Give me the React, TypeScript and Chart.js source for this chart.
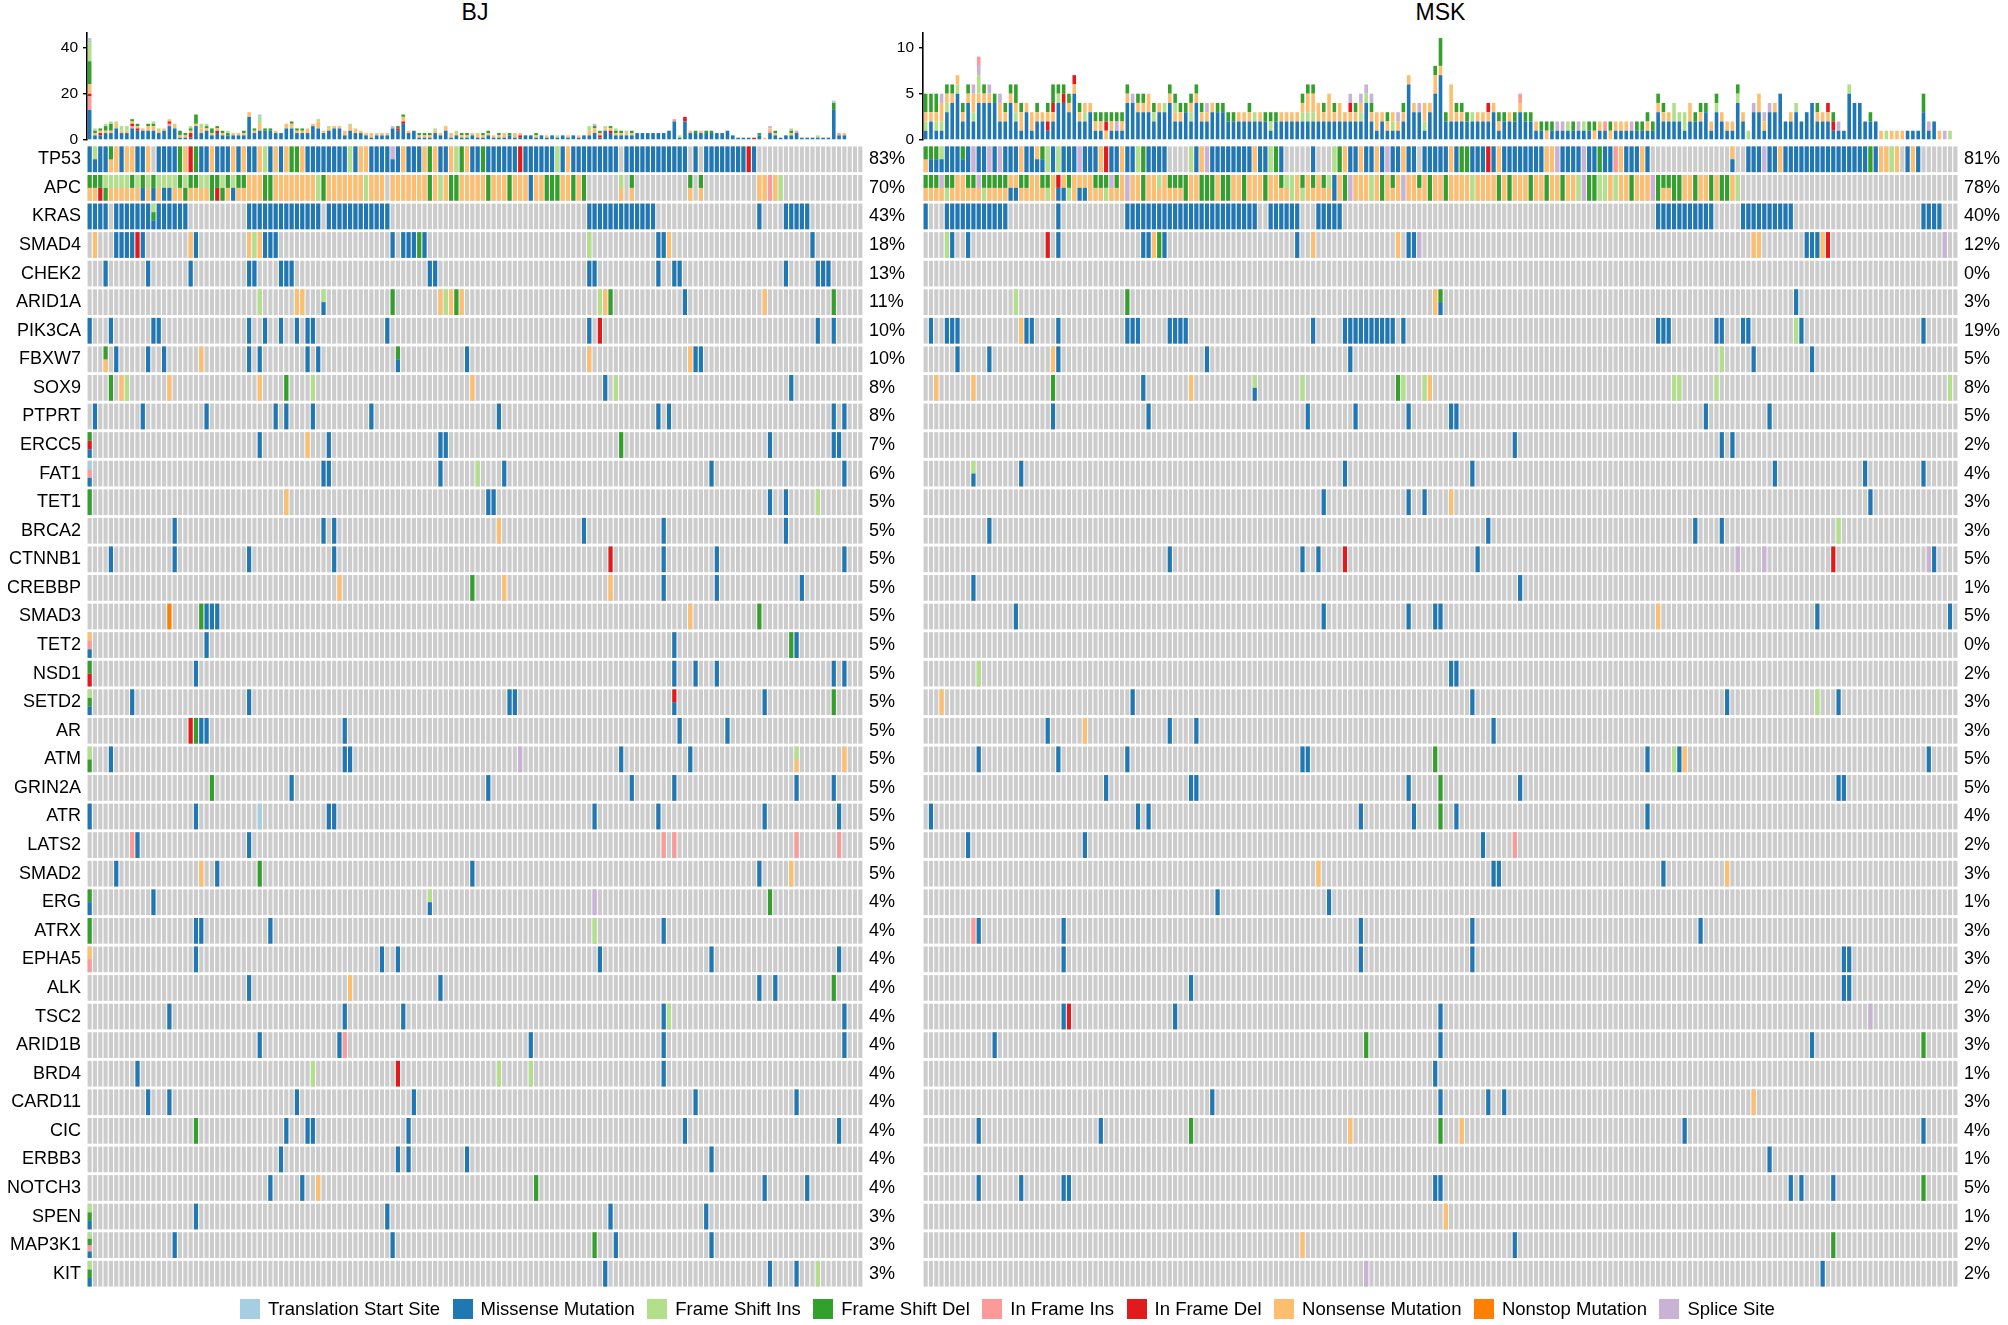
import React, { useEffect, useRef } from "react";
import { Chart, registerables } from "chart.js";

Chart.register(...registerables);

const FONT = '"Liberation Sans", Arial, Helvetica, sans-serif';

// ---------- legend / mutation classes ----------
const typeCodes = ["T", "M", "I", "D", "P", "R", "N", "O", "S"];
const typeNames = [
  "Translation Start Site",
  "Missense Mutation",
  "Frame Shift Ins",
  "Frame Shift Del",
  "In Frame Ins",
  "In Frame Del",
  "Nonsense Mutation",
  "Nonstop Mutation",
  "Splice Site",
];
const typeColors = ["#A6CEE3", "#1F78B4", "#B2DF8A", "#33A02C", "#FB9A99", "#E31A1C", "#FDBF6F", "#FF7F00", "#CAB2D6"];
const emptyColor = "#CCCCCC";

// ---------- genes and percentages ----------
const genes = [
  "TP53", "APC", "KRAS", "SMAD4", "CHEK2", "ARID1A", "PIK3CA", "FBXW7", "SOX9", "PTPRT",
  "ERCC5", "FAT1", "TET1", "BRCA2", "CTNNB1", "CREBBP", "SMAD3", "TET2", "NSD1", "SETD2",
  "AR", "ATM", "GRIN2A", "ATR", "LATS2", "SMAD2", "ERG", "ATRX", "EPHA5", "ALK",
  "TSC2", "ARID1B", "BRD4", "CARD11", "CIC", "ERBB3", "NOTCH3", "SPEN", "MAP3K1", "KIT",
];
const bjPercents = [83, 70, 43, 18, 13, 11, 10, 10, 8, 8, 7, 6, 5, 5, 5, 5, 5, 5, 5, 5, 5, 5, 5, 5, 5, 5, 4, 4, 4, 4, 4, 4, 4, 4, 4, 4, 4, 3, 3, 3];
const mskPercents = [81, 78, 40, 12, 0, 3, 19, 5, 8, 5, 2, 4, 3, 3, 5, 1, 5, 0, 2, 3, 3, 5, 5, 4, 2, 3, 1, 3, 3, 2, 3, 3, 1, 3, 4, 1, 5, 1, 2, 2];

const bjSampleCount = 146;
const mskSampleCount = 195;
const bjTicks = [0, 20, 40];
const mskTicks = [0, 5, 10];
const bjMaxTmb = 46.2;
const mskMaxTmb = 11.55;

// ---------- per-sample mutation burden (type + count, bottom to top) ----------
const bjBars = [
  "M13P6R1N4D10I8S1T1", "M2N1D1I1", "M2R1N1D1", "M3N1D2I1", "M3N1D3I1", "M5N2I1", "M3N1I2", "M3N1I2", "M5P1R1N1D1", "M4R1N1D1",
  "M4N1", "M4N2D1", "M4N2D1I1", "M3N1I1", "M4N1", "M6P1R1N1", "M5N2", "M1N1D2", "M1N1D1", "M1R2N1D1I1",
  "M6N1D4", "M3N2I2", "M4N1D1I1", "M2N1D2", "M3R1N1D1", "M2N1D1", "M2D1I1", "M2N1", "M2N1", "M2N1D1",
  "M10N2", "M3N1D1", "M4N3I3T1", "M4D1", "M4D1", "M3N1", "M3", "M5N2", "M5N2D1", "M3N1D1",
  "M3N1D1", "M3N2", "M6N1", "M5N3I1", "M3N1", "M4N1I1", "M5N1", "M5N1", "M2N2", "M4N2I1",
  "M3N2", "M3N1", "M2N1", "M1N2", "M2N1", "M2N1", "M2N1", "M5S1", "M4R1D1", "M7R1N2D1",
  "M3N1", "M4", "M1N1D1", "M1N1D1", "M1N1D1", "M3N1I1", "M2N1", "M4N2", "M1N2", "M2N1I1",
  "M1N1D1", "M1N1D1", "M2N1", "M1N2", "M1N1D1", "M2N1D1", "M1N1", "M1N1D1", "M1N2", "M2D1",
  "M1N2", "M1R1N1", "M2", "M2", "M1N1D1", "M2", "M1N1", "M2", "M1I1", "M2",
  "M1N1", "M2", "M1N1", "M2", "M2N2I2", "M3N2D1S1", "M1R1N1D1", "M4N1I1", "M3R1N1D1", "M2N1D1I1",
  "M2N1D1", "M2N1I1", "M2N1D1", "M3", "M3", "M3", "M3", "M3", "M3", "M4",
  "M8P1", "M1I1", "M8R2", "M3N1", "M3D1", "M3N1", "M3D1", "M3D1", "M3", "M3",
  "M4", "M2", "M1", "M1", "M1", "R1", "M2D1", "N1", "M3P1N1S1", "M2N1D1",
  "M1", "M2", "M2N1D1I1", "M3P1", "M1", "M1", "M1", "M1I1", "M1", "M1",
  "M13D3T1", "M2P1", "M2N1", "", "", "",
];

const mskBars = [
  "M1I1N1D2", "M2N1D2", "M1I1N1D2", "M1I1N2S1", "M3I1N1D1", "M4N1D1", "M5I1N1", "M2N1D1", "M4N1D1", "M2I1N2S1",
  "M4N1I2S1P1", "M4N1D1", "M4N1S1", "M4D1", "M2N2S1", "M2N1D1", "M4N1D1", "M2I1N1D2", "M1N2D1", "M3N1",
  "M1N2", "M2N1D1", "M2N1", "M1R1N1D1", "M2N1R1D2", "M4I1D1", "M4R1D1", "M3N1D1", "M5N1R1", "M2N1D1",
  "M2I1N1", "M3N1", "M1N1D1", "M1N1D1", "N1R1D1", "M1N1D1", "M1S1D1", "M1N1D1", "M4N1D1", "M4S1",
  "M3N1D1", "M3N1D1", "M3N2", "M2I1D1", "M3N1", "M3I1", "M4N1D1", "M2N1I1D1", "M2N1D1", "M3D1",
  "M2I1N1D1", "M4N1D1", "M2N1D1", "M2N1S1", "M3N1", "M3D1", "M3D1", "M2D1", "M2D1", "M2N1",
  "M2N1", "M2N1D1", "M2I1", "M2N1", "M2D1", "M1I1D1", "M2D1", "M2N1", "M2N1", "M2N1",
  "M2N1", "M2I1N1D1", "M2I1N2D1", "M2I1N2D1", "M2N2", "M2N1D1", "M2N3", "M2N1D1", "M2N2", "M2N1",
  "M2N1R1S1", "M2N1D1", "M2I1N1S1", "M4I1S1", "M2N1D1S1", "M1N2", "M2N1", "M1N1D1", "M1I1N1", "M1N1S1",
  "M2N1D1", "M6N1", "M3N1", "M3S1", "M1I1N2", "M3N1", "M5N2D1", "M7N1D3", "M2D1", "M2N4",
  "M2N1D1", "M2N1D1", "M2D1", "M2I1", "M2N1", "M2N1", "M2N1R1", "M3N1", "M1N1D1", "M2D1",
  "M2N1", "M2D1", "M3N1P1", "M2D1", "M2D1", "M1N1", "M1D1", "N1D1", "M1D1", "M1S1",
  "M1S1", "M1I1", "M1D1", "M1S1", "M1I1", "M1D1", "N1D1", "M1N1", "M1P1", "N1D1",
  "M1N1", "M1N1", "M1N1", "M1S1", "M1D1", "M1D1", "M1N1D1", "M1D1", "M3N1D1", "M2N1D1",
  "M2N1", "M2I2", "M2I1", "M1I2", "M2N2", "M2D1", "M2N1D1", "M3D1", "M1N1", "M3I1D1",
  "M2N1", "M1N1", "M1N1", "M4I1D1", "M2N1", "I1", "M3S1", "M3N2", "M1N1S1", "M3S1",
  "M3N1", "M5", "M2", "M2N1", "M3I1", "M2", "M3", "M4", "M2N1D1", "M2N1",
  "M2N1R1", "M1R1D1", "M1S1", "M1", "M5I1", "M4", "M4", "M2", "M2D1", "M2",
  "N1", "I1", "N1", "N1", "N1", "M1", "M1", "M1", "M3D2", "M1S1",
  "M2", "N1", "S1", "I1", "",
];

// ---------- oncoprint cells: "index[-index]CODES" (codes top to bottom) ----------
const bjRows = [
  "0M 1IM 2-3M 4DN 5N 6M 7-8N 9-10M 11N 13-16M 17D 18N 19R 20D 21-22M 23N 24-26M 27N 28M 29N 30-31M 32N 33I 34M 35N 36M 37N 38-39D 40N 41-48M 49I 50M 51-52N 53-56M 57SM 58M 59N 60-62M 63N 64D 65N 66-67M 68N 69I 70D 71N 72-73M 74D 75-80M 81R 82-87M 88I 89M 90N 91-99M 101-112M 114M 116-123M 124R 125M",
  "0-1DN 2DR 3ID 4-7IN 8DN 9IN 10DM 11IN 12DM 13IN 14-15IM 16IN 17DN 18ID 19-20DN 21-22IN 23D 24DR 25ID 26DN 27IM 28-29DN 30-32N 33-34D 35-42N 43I 44D 45-51N 52I 53-55N 57-63N 64D 65N 66I 67N 68-69D 70-74N 75D 76-78N 79D 80-82N 83M 84-85N 86-88D 89-90N 91D 92N 93D 100IN 102DN 113DN 115DN 126-127N 128P 129N 130I",
  "0-3M 5-11M 12IDM 13-18M 30-43M 45-56M 94-106M 126M 131-135M",
  "1N 5-8M 9R 10M 19N 20M 30N 31I 32N 33-35M 57M 59-61M 62D 63M 94I 107-108M 109N 136M",
  "3M 11M 19M 30-31M 36-38M 64-65M 94-95M 107M 110-111M 131M 137-139M",
  "32I 39-40N 44IM 57D 66N 67I 68N 69D 70N 96I 97N 98D 112M 127N 140D",
  "0M 4M 12-13M 30M 33M 36M 39M 41-42M 56M 94M 96R 137M 140M",
  "3DN 5M 11M 14M 21N 30M 32M 41M 43M 58DM 71M 94N 113N 114-115M",
  "4D 6N 7I 15N 32N 37D 42I 72N 97M 99I 132M",
  "1M 10M 22M 35M 37M 42M 53M 77M 107M 109M 140M 142M",
  "0DRM 32M 41N 45M 66-67M 100D 128M 140-141M",
  "0TPM 44-45M 66M 73I 78M 117M 142M",
  "0D 37N 75-76M 128M 131M 137I",
  "16M 44M 46M 77N 93M 108M 131M",
  "4M 16M 30M 46M 98R 108M 118M 142M",
  "47N 72D 78N 98N 108M 118M 134M",
  "15O 21D 22-24M 113N 126D",
  "0NPM 22M 110M 132D 133M",
  "0DR 20M 110M 114M 118M 140M 142M",
  "0IDM 8M 30M 79-80M 110RM 127M 140D",
  "19R 20D 21-22M 48M 111M 120M",
  "0ID 4M 48-49M 81S 100M 113M 133IN 142N",
  "23D 38M 75M 102M 110M 133M 140M",
  "0M 20M 32T 45-46M 95M 107M 127M 141M",
  "8P 9M 30M 108P 110P 133P 141P",
  "5M 21N 24M 32D 72M 126M 132N",
  "0DM 12M 64IM 95S 128D",
  "0D 20-21M 34M 95I 108M",
  "0NP 20M 55M 58M 96M 117M 141M",
  "30M 49N 66M 126M 129M 140D",
  "15M 48M 59M 108M 109I 142M",
  "32M 47M 48P 83M 108M 142M",
  "9M 42I 58R 77I 83I 108M",
  "11M 15M 39M 61M 114M 133M",
  "20D 37M 41-42M 60M 112M 141M",
  "36M 58M 60M 71M 117M",
  "34M 40M 43N 84D 127M 135M",
  "0IDM 20M 56M 98M 116M",
  "0IDPM 16M 57M 95D 99M 117M",
  "0IDM 97M 128M 133M 137I",
];

const mskRows = [
  "0DN 1-2DM 3IM 4-6M 7DM 8M 9S 10-11M 12S 13M 14S 15-17M 18N 19-20M 21NM 22DM 23I 24M 25I 26-28M 29S 30-32M 33N 34R 35-36M 37N 38-39M 40I 41D 42-45M 50I 51M 52N 53S 54-61M 62N 63-64M 65I 66D 67M 73M 77I 78D 79N 80-81M 82N 83-84M 85N 86M 87S 88-89M 90N 91-92M 94-98M 99N 100M 101-102D 103-105M 106R 107M 108N 109-116M 117-118N 119S 120-123M 124S 125-126M 127D 128-129M 130P 131N 132-134M 135N 136M 152NM 155-157M 158S 159-160M 161N 162-177M 178D 179M 180-181N 182I 183N 185M 186N 187M",
  "0-2DN 3SN 4DI 5DN 6-7N 8-9DN 10SN 11DI 12-15DN 16-17NM 18-19DN 20-21N 22DN 23DI 24N 25RM 26NM 27DI 28N 29-30NM 31N 32-33DN 34DI 35SN 36DN 37N 38S 39-40N 41D 42-43N 44IN 45N 46-48DN 49D 50-51N 52-54D 55N 56-57D 58-59N 60D 61-63N 64D 65-66N 67DN 68IN 69I 70N 71DI 72N 73DN 74N 75DN 76IN 77M 78N 79D 80S 81-83N 84I 85N 86D 87N 88DN 89N 90S 91-92N 93DN 94N 95D 96-97N 98D 99-102N 103I 104-107N 108D 109N 110D 111-113N 114D 115-116N 117D 118-119N 120D 121-122N 123I 124S 125-126D 127-128I 129N 130I 131-132N 133D 134-136N 137S 138D 139-140DN 141-142D 143-144N 145D 146-147N 148D 149N 150-151D 152N 153I",
  "0M 4-15M 25M 38-62M 65-70M 74-78M 138-148M 154-163M 188-191M",
  "4I 5M 8M 23R 25M 41-42M 43N 44D 45M 70M 73N 89N 91-92M 93S 156-157N 166-168M 169N 170R 192S",
  "",
  "17I 38D 96N 97DM 164M",
  "1M 4-6M 18N 19-20M 25M 38-40M 46-49M 73M 79-88M 90M 138-140M 149-150M 154-155M 164I 165M 188M",
  "6M 12M 24N 25M 53M 80M 150I 156M 167M",
  "2N 9N 24D 41M 50N 62IM 71I 89D 90I 94I 95N 141-142I 149I 193I",
  "24M 42M 72M 81M 91M 99-100M 147M 159M",
  "111M 150M 152M",
  "9IM 18M 79M 103M 160M 177M 188M",
  "75M 91M 94M 99N 178M",
  "12M 106M 145M 150M 172I",
  "46M 71M 74M 79R 104M 153S 158S 171R 189S 190M",
  "9M 112M",
  "17M 75M 91M 96-97M 138N 168M 193M",
  "",
  "10I 99M 100M",
  "3N 39M 103M 151M 168I 172M",
  "23M 30N 46M 51M 107M",
  "10M 25M 38M 71-72M 96D 136M 141I 142M 143N 189M",
  "34M 50-51M 91M 97D 112M 172-173M",
  "1M 40M 42M 82M 92M 97D 100M 136M",
  "8M 30M 105M 111P",
  "74N 107-108M 139M 151N",
  "55M 76M",
  "9P 10M 26M 82M 103M 146M",
  "26M 82M 103M 173-174M",
  "50M 173-174M",
  "26M 27R 47M 97M 178S",
  "13M 83D 97M 167M 188D",
  "96M",
  "54M 97M 106M 109M 156N",
  "10M 33M 50D 80N 97D 101N 143M 188M",
  "159M",
  "10M 18M 26-27M 96-97M 163M 165M 171M 188D",
  "98N",
  "71N 111M 171D",
  "83S 169M",
];

// ---------- helpers ----------
const colorOf = (code: string) => typeColors[typeCodes.indexOf(code)];

function parseRow(row: string) {
  const out: { i: number; codes: string }[] = [];
  row.trim().split(/\s+/).filter(Boolean).forEach((tok) => {
    const m = tok.match(/^(\d+)(?:-(\d+))?([A-Z]+)$/);
    if (!m) return;
    const a = +m[1];
    const b = m[2] ? +m[2] : a;
    for (let i = a; i <= b; i++) out.push({ i, codes: m[3] });
  });
  return out;
}

function makeSamples(prefix: string, n: number) {
  return Array.from({ length: n }, (_, i) => `${prefix}${i + 1}`);
}

const PAD = 20; // canvas padding around every plot area (larger than tick-label overhang)

function barsConfig(bars: string[], samples: string[], maxV: number, ticks: number[], leftW: number, padRight: number): any {
  const runs = bars.map((s) => Array.from(s.matchAll(/([A-Z])(\d+)/g)).map((m) => ({ c: m[1], n: +m[2] })));
  const layers = Math.max(...runs.map((r) => r.length));
  const datasets = Array.from({ length: layers }, (_, L) => ({
    data: runs.map((r) => (r[L] ? r[L].n : null)),
    backgroundColor: runs.map((r) => (r[L] ? colorOf(r[L].c) : "rgba(0,0,0,0)")),
    borderWidth: 0,
    barPercentage: 0.68,
    categoryPercentage: 1,
    stack: "tmb",
  }));
  return {
    type: "bar",
    data: { labels: samples, datasets },
    options: {
      animation: false,
      responsive: false,
      maintainAspectRatio: false,
      events: [],
      layout: { padding: { top: PAD, bottom: PAD, left: 0, right: padRight } },
      plugins: { legend: { display: false }, tooltip: { enabled: false }, title: { display: false } },
      scales: {
        x: { type: "category", stacked: true, display: false, offset: true },
        y: {
          type: "linear",
          stacked: true,
          min: 0,
          max: maxV,
          afterFit: (s: any) => {
            s.width = leftW;
          },
          afterBuildTicks: (s: any) => {
            s.ticks = ticks.map((v) => ({ value: v }));
          },
          border: { display: true, color: "#000", width: 1.6 },
          grid: { display: true, drawOnChartArea: false, drawTicks: true, tickLength: 4, color: "#000", lineWidth: 1.4 },
          ticks: { color: "#000", padding: 5, font: { family: FONT, size: 15.5 } },
        },
      },
    },
  };
}

function heatConfig(rows: string[], percents: number[], samples: string[], showGenes: boolean, padLeft: number, leftW: number, rightW: number): any {
  const bg: any[] = [];
  genes.forEach((_, g) => {
    samples.forEach((s) => bg.push({ x: s, y: [g + 0.05, g + 0.95] }));
  });
  const byType: Record<string, any[]> = {};
  rows.forEach((row, g) => {
    parseRow(row).forEach(({ i, codes }) => {
      const k = codes.length;
      const h = 0.9 / k;
      codes.split("").forEach((c, j) => {
        (byType[c] = byType[c] || []).push({ x: samples[i], y: [g + 0.05 + j * h, g + 0.05 + (j + 1) * h] });
      });
    });
  });
  const common = { borderWidth: 0, barPercentage: 0.78, categoryPercentage: 1, grouped: false };
  // the empty-cell layer gets the highest order so it is painted first (behind the mutations)
  const datasets = [
    ...typeCodes.map((c, t) => ({ label: typeNames[t], data: byType[c] || [], backgroundColor: typeColors[t], order: 0, ...common })),
    { label: "none", data: bg, backgroundColor: emptyColor, order: 1, ...common },
  ];
  const rowTicks = (s: any) => {
    s.ticks = genes.map((_, g) => ({ value: g + 0.5 }));
  };
  return {
    type: "bar",
    data: { labels: samples, datasets },
    options: {
      animation: false,
      responsive: false,
      maintainAspectRatio: false,
      events: [],
      layout: { padding: { top: PAD, bottom: PAD, left: padLeft, right: 0 } },
      plugins: { legend: { display: false }, tooltip: { enabled: false } },
      scales: {
        x: { type: "category", display: false, offset: true },
        y: {
          type: "linear",
          position: "left",
          min: 0,
          max: genes.length,
          reverse: true,
          display: showGenes,
          afterFit: (s: any) => {
            s.width = leftW;
          },
          afterBuildTicks: rowTicks,
          grid: { display: false, drawTicks: false, tickLength: 0 },
          border: { display: false },
          ticks: {
            autoSkip: false,
            padding: 6,
            color: "#000",
            font: { family: FONT, size: 18 },
            callback: (_v: any, idx: number) => genes[idx],
          },
        },
        yPct: {
          type: "linear",
          position: "right",
          min: 0,
          max: genes.length,
          reverse: true,
          afterFit: (s: any) => {
            s.width = rightW;
          },
          afterBuildTicks: rowTicks,
          grid: { display: false, drawTicks: false, tickLength: 0 },
          border: { display: false },
          ticks: {
            autoSkip: false,
            padding: 6,
            color: "#000",
            font: { family: FONT, size: 18 },
            callback: (_v: any, idx: number) => `${percents[idx]}%`,
          },
        },
      },
    },
  };
}

function ChartBox({ make, left, top, width, height }: { make: () => any; left: number; top: number; width: number; height: number }) {
  const ref = useRef<HTMLCanvasElement>(null);
  useEffect(() => {
    const chart = new Chart(ref.current as HTMLCanvasElement, make());
    return () => chart.destroy();
  }, []);
  return (
    <canvas
      ref={ref}
      width={width}
      height={height}
      style={{ position: "absolute", left, top, width, height, display: "block" }}
    />
  );
}

// plot-area frames (page pixels)
const heatTop = 145;
const heatBottom = 1288;
const barTop = 33;
const barBottom = 140;

export default function App() {
  const bjSamples = makeSamples("BJ", bjSampleCount);
  const mskSamples = makeSamples("MSK", mskSampleCount);
  const hTop = heatTop - PAD;
  const hHeight = heatBottom + PAD - hTop;
  const bTop = barTop - PAD;
  const bHeight = barBottom + PAD - bTop;
  return (
    <div
      style={{
        position: "absolute",
        left: 0,
        top: 0,
        width: 2008,
        height: 1325,
        background: "#fff",
        fontFamily: FONT,
        color: "#000",
        overflow: "hidden",
      }}
    >
      <div style={{ position: "absolute", left: 87, width: 776, top: 0, textAlign: "center", fontSize: 23, lineHeight: "25px" }}>BJ</div>
      <div style={{ position: "absolute", left: 923, width: 1035, top: 0, textAlign: "center", fontSize: 23, lineHeight: "25px" }}>MSK</div>

      <ChartBox make={() => heatConfig(bjRows, bjPercents, bjSamples, true, 0, 87, 55)} left={0} top={hTop} width={918} height={hHeight} />
      <ChartBox make={() => heatConfig(mskRows, mskPercents, mskSamples, false, 5, 0, 50)} left={918} top={hTop} width={1090} height={hHeight} />
      <ChartBox make={() => barsConfig(bjBars, bjSamples, bjMaxTmb, bjTicks, 87, 55)} left={0} top={bTop} width={918} height={bHeight} />
      <ChartBox make={() => barsConfig(mskBars, mskSamples, mskMaxTmb, mskTicks, 43, 50)} left={880} top={bTop} width={1128} height={bHeight} />

      <div style={{ position: "absolute", left: 240, top: 1299, height: 20, display: "flex", alignItems: "center", gap: 12.5, whiteSpace: "nowrap" }}>
        {typeNames.map((name, t) => (
          <div key={name} style={{ display: "flex", alignItems: "center" }}>
            <span style={{ display: "inline-block", width: 20, height: 20, background: typeColors[t], marginRight: 8 }} />
            <span style={{ fontSize: 18.5, lineHeight: "20px" }}>{name}</span>
          </div>
        ))}
      </div>
    </div>
  );
}
